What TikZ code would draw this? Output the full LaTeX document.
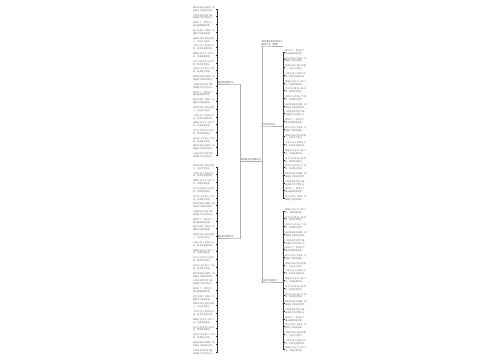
\documentclass[tikz,border=0pt]{standalone}
\usepackage{fontspec}
\newfontfamily\cjk{Noto Sans CJK SC}
\XeTeXlinebreaklocale "zh"
\XeTeXlinebreakskip = 0pt plus 1pt
\usetikzlibrary{positioning}

\tikzset{
  leaf/.style={font=\cjk\fontsize{2.1}{2.9}\selectfont, text=black!55, text width=22pt, align=left, inner sep=0.3pt},
  branch/.style={font=\cjk\fontsize{2.3}{3}\selectfont, text=black!65, text width=21pt, align=left, inner sep=0.4pt},
  trunk/.style={draw=black!30, line width=0.5pt},
  twig/.style={draw=black!80, line width=0.5pt}
}

\newcommand{\leaftext}[1]{\ifcase#1
  春风轻轻吹过田野，柳枝抽出了嫩绿的新芽。\or
  小雨淅淅沥沥地下着，滋润着大地万物生长。\or
  桃花红了，梨花白了，满山遍野都是花香。\or
  燕子从南方飞回来，在屋檐下忙着筑新巢。\or
  清晨的阳光洒在湖面上，泛起点点金光。\or
  小草从泥土里探出头来，好奇地张望四周。\or
  蜜蜂在花丛中飞来飞去，忙着采集花蜜。\or
  孩子们在草地上放风筝，笑声传得很远。\or
  远处的山峦披上了绿装，显得格外秀丽。\fi}

\begin{document}
\begin{tikzpicture}[x=1pt,y=-1pt]
\fill[white] (0,0) rectangle (500,360);
\useasboundingbox (0,0) rectangle (500,360);

% main branches
\node[branch, anchor=south west] (root) at (240,161) {描写春天的优美句子};
\node[branch, anchor=south west] (lt) at (217,84) {春天的景色句子};
\node[branch, anchor=south west] (lb) at (217,238) {春天的花草句子};
\node[branch, anchor=south west] (rt) at (261,46) {描写春天的优美句子摘抄大全（精选）};
\node[branch, anchor=south west] (rm) at (261,126) {春天的雨句子};
\node[branch, anchor=south west] (rb) at (261,282) {春天的鸟语句子};

\draw[trunk] (root.south west) -- (root.south east);
\foreach \b in {lt,lb}
  \draw[trunk] (root.south west) |- (\b.south east) -- (\b.south west);
\foreach \b in {rt,rm,rb}
  \draw[trunk] (root.south east) |- (\b.south west) -- (\b.south east);

% left leaves
\foreach \i in {0,...,19} {
  \pgfmathtruncatemacro\k{mod(\i,9)}
  \node[leaf, anchor=east] (lt\i) at (215.5,9+7.7*\i) {\leaftext{\k}};
  \draw[twig] (lt.south west) |- (lt\i.east);
}
\foreach \i in {0,...,24} {
  \pgfmathtruncatemacro\k{mod(\i+4,9)}
  \node[leaf, anchor=east] (lb\i) at (215.5,167+7.7*\i) {\leaftext{\k}};
  \draw[twig] (lb.south west) |- (lb\i.east);
}

% right leaves
\foreach \i in {0,...,19} {
  \pgfmathtruncatemacro\k{mod(\i+2,9)}
  \node[leaf, anchor=west] (rm\i) at (284.5,52+7.7*\i) {\leaftext{\k}};
  \draw[twig] (rm.south east) |- (rm\i.west);
}
\foreach \i in {0,...,18} {
  \pgfmathtruncatemacro\k{mod(\i+6,9)}
  \node[leaf, anchor=west] (rb\i) at (284.5,211+7.7*\i) {\leaftext{\k}};
  \draw[twig] (rb.south east) |- (rb\i.west);
}

\end{tikzpicture}
\end{document}
